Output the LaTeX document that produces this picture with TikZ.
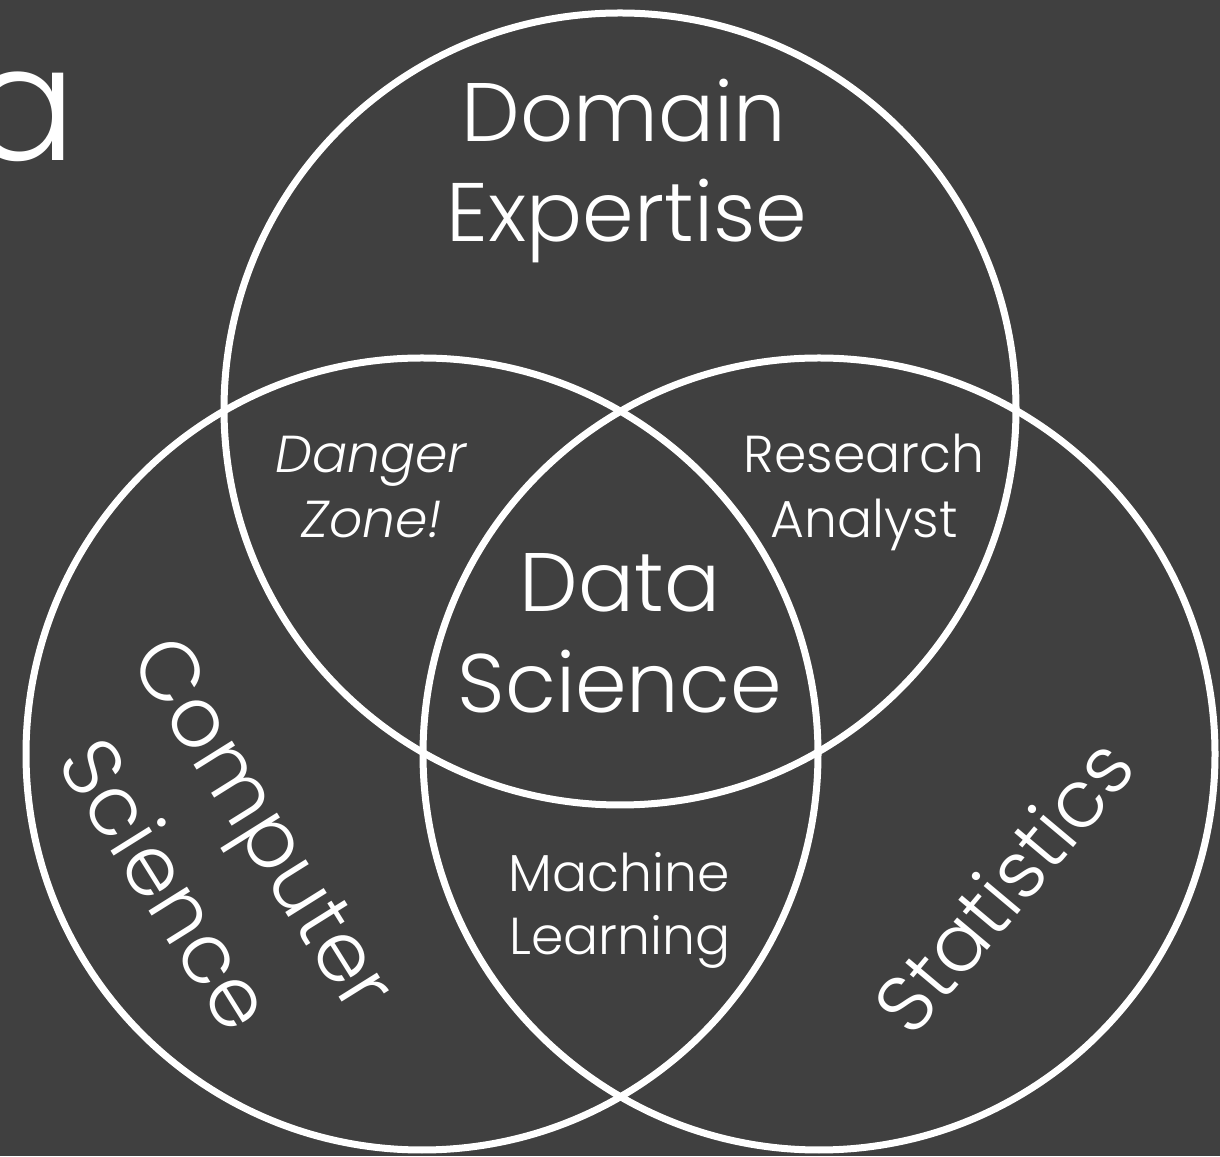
\documentclass[tikz,border=0pt]{standalone}
\usepackage{fontspec}
\setmainfont{Poppins Light}
\definecolor{bg}{HTML}{404040}
\tikzset{
  ring/.style={draw=white, line width=7pt},
  big/.style={text=white, inner sep=0pt, anchor=base, font=\fontsize{83}{100}\selectfont},
  small/.style={text=white, inner sep=0pt, anchor=base, font=\fontsize{52}{65}\selectfont},
  smallit/.style={small, font=\fontsize{52}{65}\selectfont\itshape},
}
\begin{document}
\begin{tikzpicture}[x=1pt, y=1pt]
  \fill[bg] (0,0) rectangle (1220,1156);
  \useasboundingbox (0,0) rectangle (1220,1156);
  % circles
  \draw[ring] (620,747) circle[radius=396];
  \draw[ring] (422,402) circle[radius=396];
  \draw[ring] (819,402) circle[radius=396];
  % title fragment
  \node[text=white, inner sep=0pt, anchor=base east, font=\fontsize{160}{160}\selectfont] (title) at (77,995) {a};
  % labels
  \node[big] (dom1) at (624,1014) {Domain};
  \node[big] (dom2) at (627,914) {Expertise};
  \node[smallit] (dz1) at (371,683) {Danger};
  \node[smallit] (dz2) at (372,618) {Zone!};
  \node[small] (ra1) at (864,683) {Research};
  \node[small] (ra2) at (864,618) {Analyst};
  \node[big] (ds1) at (620,544) {Data};
  \node[big] (ds2) at (620,443) {Science};
  \node[small] (ml1) at (619,264) {Machine};
  \node[small] (ml2) at (620,201) {Learning};
  \begin{scope}[shift={(212,300)}, rotate=-58]
    \node[big, rotate=-58] (cs1) at (0,33) {Computer};
    \node[big, rotate=-58] (cs2) at (0,-83) {Science};
  \end{scope}
  \begin{scope}[shift={(1006,268)}, rotate=50]
    \node[big, rotate=50, font=\fontsize{80}{100}\selectfont] (st) at (0,-26) {Statistics};
  \end{scope}
\end{tikzpicture}
\end{document}
